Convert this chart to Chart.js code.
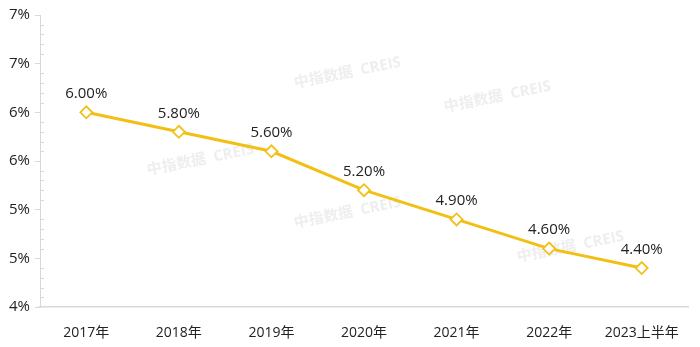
<!DOCTYPE html>
<html>
<head>
<meta charset="utf-8">
<script src="https://cdn.jsdelivr.net/npm/chart.js@4"></script>
<style>
  html, body { margin: 0; padding: 0; background: #fff; }
  #wrap { width: 700px; height: 347px; position: relative; }
</style>
</head>
<body>
<div id="wrap"><canvas id="rateChart"></canvas></div>
<script>
const categories = ['2017年', '2018年', '2019年', '2020年', '2021年', '2022年', '2023上半年'];
const rates = [6.0, 5.8, 5.6, 5.2, 4.9, 4.6, 4.4];
const yTickLabels = ['4%', '5%', '5%', '6%', '6%', '7%', '7%'];
const watermarkText = '中指数据  CREIS';

const gold = 'rgb(242, 192, 20)';
const fontFamily = '"Open Sans", "Noto Sans CJK SC", sans-serif';

// minor ticks on the y axis, data labels and watermark
const extras = {
    id: 'extras',
    beforeDatasetsDraw(chart) {
        const ctx = chart.ctx;
        const area = chart.chartArea;
        ctx.save();
        ctx.fillStyle = 'rgba(205,205,205,0.35)';
        ctx.font = 'bold 15px ' + fontFamily;
        const spots = [[295, 88], [445, 112], [148, 175], [295, 228], [518, 262]];
        spots.forEach(([x, y]) => {
            ctx.save();
            ctx.translate(x, y);
            ctx.rotate(-0.2);
            ctx.fillText(watermarkText, 0, 0);
            ctx.restore();
        });
        ctx.restore();

        const y = chart.scales.y;
        ctx.save();
        ctx.strokeStyle = '#d9d9d9';
        ctx.lineWidth = 1;
        for (let v = 40; v <= 70; v++) {
            if (v % 5 === 0) continue;
            const py = Math.round(y.getPixelForValue(v / 10)) + 0.5;
            ctx.beginPath();
            ctx.moveTo(area.left, py);
            ctx.lineTo(area.left + 4, py);
            ctx.stroke();
        }
        ctx.restore();
    },
    afterDatasetsDraw(chart) {
        const ctx = chart.ctx;
        const meta = chart.getDatasetMeta(0);
        ctx.save();
        ctx.fillStyle = '#222';
        ctx.font = '15px ' + fontFamily;
        ctx.textAlign = 'center';
        ctx.textBaseline = 'bottom';
        meta.data.forEach((pt, i) => {
            ctx.fillText(rates[i].toFixed(2) + '%', pt.x, pt.y - 11);
        });
        ctx.restore();
    }
};

new Chart(document.getElementById('rateChart'), {
    type: 'line',
    data: {
        labels: categories,
        datasets: [{
            data: rates,
            borderColor: gold,
            borderWidth: 3,
            tension: 0,
            pointStyle: 'rectRot',
            pointRadius: 6,
            pointBorderWidth: 1.8,
            pointBackgroundColor: '#fff',
            pointBorderColor: gold,
        }],
    },
    options: {
        responsive: true,
        maintainAspectRatio: false,
        animation: false,
        layout: { padding: { top: 15, right: 12, left: 0, bottom: 0 } },
        plugins: {
            legend: { display: false },
            tooltip: { enabled: false },
        },
        scales: {
            x: {
                offset: true,
                grid: { display: false },
                border: { color: '#d9d9d9', width: 1.5 },
                ticks: {
                    color: '#222',
                    font: { family: fontFamily, size: 14 },
                    padding: 10,
                    maxRotation: 0,
                },
                afterFit(s) { s.height = 40; },
            },
            y: {
                min: 4,
                max: 7,
                ticks: {
                    stepSize: 0.5,
                    color: '#222',
                    font: { family: fontFamily, size: 15 },
                    padding: 5,
                    callback: (v, i) => yTickLabels[i],
                },
                grid: {
                    drawOnChartArea: false,
                    drawTicks: true,
                    tickLength: 5,
                    color: '#d9d9d9',
                },
                border: { color: '#d9d9d9', width: 1 },
                afterFit(s) { s.width = 40; },
            },
        },
    },
    plugins: [extras],
});
</script>
</body>
</html>
